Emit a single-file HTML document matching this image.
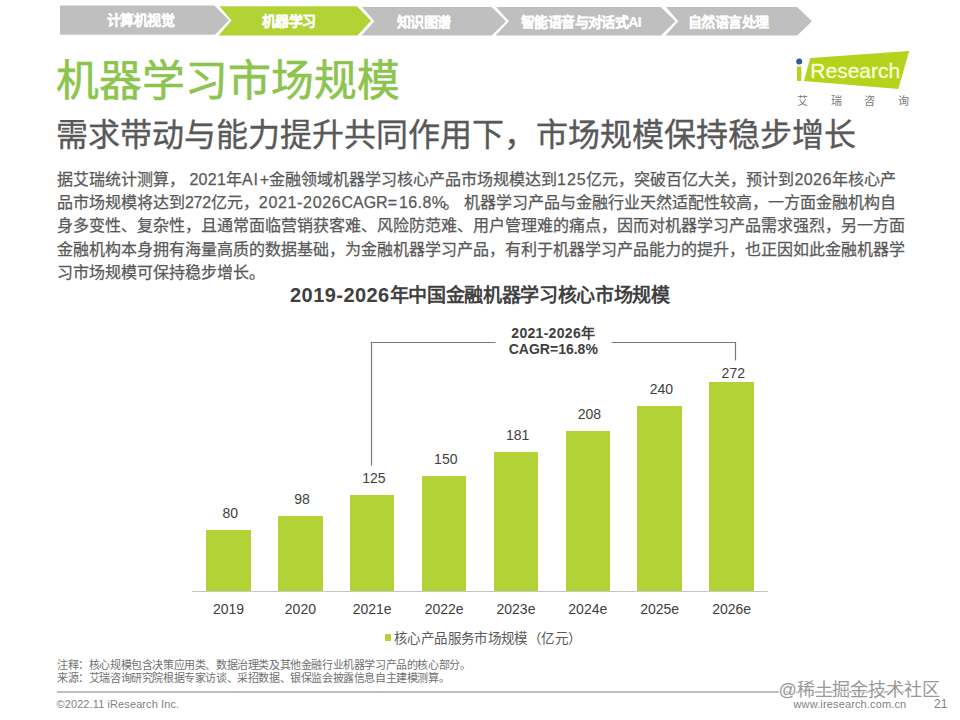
<!DOCTYPE html>
<html lang="zh-CN"><head><meta charset="utf-8">
<style>
html,body{margin:0;padding:0;background:#fff;}
body{width:960px;height:720px;position:relative;overflow:hidden;font-family:"Liberation Sans",sans-serif;}
.a{position:absolute;white-space:nowrap;line-height:1;}
.tab{color:#fff;font-weight:700;font-size:14px;letter-spacing:-0.6px;-webkit-text-stroke:0.2px #fff}
.body{color:#595959;font-size:16px;-webkit-text-stroke:0.25px #595959;}
.lbl{color:#404040;font-size:14px;}
.bar{position:absolute;background:#b2d235;width:44.6px;}
</style></head><body>
<svg class="a" style="left:0;top:0" width="960" height="40">
<polygon fill="#bfbfbf" points="60,5.5 214.3,5.5 229,20.2 215,34.8 60,34.8"/>
<polygon fill="#b2d235" points="219.5,6.2 357,6.2 371,20.8 357.5,35.5 218.5,35.5 231.5,20.6"/>
<polygon fill="#bfbfbf" points="362,6.9 491.7,6.9 506,21.2 491.7,35.5 361.5,35.5 374.4,21.2"/>
<polygon fill="#bfbfbf" points="496.1,6.9 660.8,6.9 675.5,21.3 660.8,35.5 495.6,35.5 508.9,21.3"/>
<polygon fill="#bfbfbf" points="666,6.9 797.2,6.9 812,21.3 797.2,35.5 665.5,35.5 678.3,21.3"/>
</svg>
<div class="a tab" style="left:107px;top:13px">计算机视觉</div>
<div class="a tab" style="left:262px;top:13.5px">机器学习</div>
<div class="a tab" style="left:397px;top:15px">知识图谱</div>
<div class="a tab" style="left:521px;top:15px">智能语音与对话式AI</div>
<div class="a tab" style="left:688px;top:14.5px">自然语言处理</div>

<div class="a" style="left:55.5px;top:60px;font-size:42.8px;font-weight:500;-webkit-text-stroke:0.6px #8cc44e;color:#8cc44e">机器学习市场规模</div>
<div class="a" style="left:56px;top:118.7px;font-size:32px;font-weight:500;-webkit-text-stroke:0.35px #595959;color:#595959">需求带动与能力提升共同作用下，市场规模保持稳步增长</div>

<!-- logo -->
<svg class="a" style="left:790px;top:45px" width="130" height="65">
<polygon fill="#b3d31c" points="20.2,12.9 119.2,6.1 108.3,44 14,36"/>
<rect x="7" y="21.5" width="4.3" height="14.5" fill="#b3d31c"/>
<circle cx="9.2" cy="16.4" r="3" fill="#2f5b9a"/>
<text x="20.3" y="33.2" font-family="Liberation Sans" font-size="21" fill="#fafcd8" stroke="#fafcd8" stroke-width="0.3">Research</text>
</svg>
<div class="a" style="left:797px;top:95.5px;font-size:11px;color:#7a7a7a;letter-spacing:22.6px">艾瑞咨询</div>

<div class="a body" style="left:57px;top:172.2px">据艾瑞统计测算， <span style="letter-spacing:0.25px">2021</span>年<span style="letter-spacing:0.7px">AI</span><span style="margin-left:1.2px">+</span>金融领域机器学习核心产品市场规模达到<span style="letter-spacing:0.87px">125</span>亿元，突破百亿大关，预计到<span style="letter-spacing:0.45px">2026</span>年核心产</div>
<div class="a body" style="left:57px;top:195.3px">品市场规模将达到<span style="letter-spacing:-0.3px">272</span>亿元，<span style="letter-spacing:0.68px">2021-2026</span>CAGR<span style="margin-right:2px">=</span><span style="letter-spacing:0.4px">16.8%</span><span style="margin-left:-3.1px;margin-right:0.6px">。</span> 机器学习产品与金融行业天然适配性较高，一方面金融机构自</div>
<div class="a body" style="left:57px;top:218.4px">身多变性、复杂性，且通常面临营销获客难、风险防范难、用户管理难的痛点，因而对机器学习产品需求强烈，另一方面</div>
<div class="a body" style="left:57px;top:241.5px">金融机构本身拥有海量高质的数据基础，为金融机器学习产品，有利于机器学习产品能力的提升，也正因如此金融机器学</div>
<div class="a body" style="left:57px;top:264.6px">习市场规模可保持稳步增长。</div>

<div class="a" style="left:290px;top:285px;font-size:19px;letter-spacing:-0.34px;font-weight:bold;color:#404040"><span style="font-size:20px;letter-spacing:0.45px">2019-2026</span>年中国金融机器学习核心市场规模</div>

<!-- CAGR bracket -->
<svg class="a" style="left:0;top:0" width="960" height="720">
<path d="M371.5,465.5 V342.5 H495.5 M611.5,342.5 H735.5 V360.5" fill="none" stroke="#7a7a7a" stroke-width="1.2"/>
</svg>
<div class="a" style="left:501.3px;top:324.6px;width:104px;text-align:center;font-size:14px;font-weight:bold;color:#404040;line-height:16.8px"><span style="letter-spacing:0.3px">2021-2026年</span><br><span style="letter-spacing:0px">CAGR=16.8%</span></div>

<!-- bars -->
<div class="bar" style="left:206.2px;top:529.7px;height:61.6px"></div>
<div class="bar" style="left:278.1px;top:515.8px;height:75.5px"></div>
<div class="bar" style="left:349.9px;top:495.0px;height:96.3px"></div>
<div class="bar" style="left:421.8px;top:475.7px;height:115.6px"></div>
<div class="bar" style="left:493.7px;top:451.8px;height:139.5px"></div>
<div class="bar" style="left:565.5px;top:431.0px;height:160.3px"></div>
<div class="bar" style="left:637.4px;top:406.4px;height:184.9px"></div>
<div class="bar" style="left:709.3px;top:381.7px;height:209.6px"></div>
<div class="a lbl" style="left:207.9px;width:44.6px;text-align:center;top:505.6px">80</div>
<div class="a lbl" style="left:279.8px;width:44.6px;text-align:center;top:491.7px">98</div>
<div class="a lbl" style="left:351.6px;width:44.6px;text-align:center;top:470.9px">125</div>
<div class="a lbl" style="left:423.5px;width:44.6px;text-align:center;top:451.6px">150</div>
<div class="a lbl" style="left:495.4px;width:44.6px;text-align:center;top:427.7px">181</div>
<div class="a lbl" style="left:567.2px;width:44.6px;text-align:center;top:406.9px">208</div>
<div class="a lbl" style="left:639.1px;width:44.6px;text-align:center;top:382.3px">240</div>
<div class="a lbl" style="left:711.0px;width:44.6px;text-align:center;top:366.4px">272</div>
<div class="a lbl" style="left:196.2px;width:64.6px;text-align:center;top:602px">2019</div>
<div class="a lbl" style="left:268.1px;width:64.6px;text-align:center;top:602px">2020</div>
<div class="a lbl" style="left:339.9px;width:64.6px;text-align:center;top:602px">2021e</div>
<div class="a lbl" style="left:411.8px;width:64.6px;text-align:center;top:602px">2022e</div>
<div class="a lbl" style="left:483.7px;width:64.6px;text-align:center;top:602px">2023e</div>
<div class="a lbl" style="left:555.5px;width:64.6px;text-align:center;top:602px">2024e</div>
<div class="a lbl" style="left:627.4px;width:64.6px;text-align:center;top:602px">2025e</div>
<div class="a lbl" style="left:699.3px;width:64.6px;text-align:center;top:602px">2026e</div>

<div class="a" style="left:192px;top:591px;width:576px;height:1px;background:rgba(0,0,0,0.22)"></div>
<div class="a" style="left:385px;top:634.3px;width:6.3px;height:6.3px;background:#b2d235"></div>
<div class="a" style="left:394px;top:632px;font-size:13.5px;letter-spacing:0.38px;color:#595959">核心产品服务市场规模（亿元）</div>

<div class="a" style="left:57px;top:660px;font-size:11px;letter-spacing:-0.4px;color:#707070">注释：核心规模包含决策应用类、数据治理类及其他金融行业机器学习产品的核心部分。</div>
<div class="a" style="left:57px;top:673px;font-size:11px;letter-spacing:-0.4px;color:#707070">来源：艾瑞咨询研究院根据专家访谈、采招数据、银保监会披露信息自主建模测算。</div>

<div class="a" style="left:56.5px;top:691px;width:847px;height:2px;background:#bfbfbf"></div>
<div class="a" style="left:56.5px;top:699px;font-size:11px;letter-spacing:0.1px;color:#7f7f7f">©2022.11 iResearch Inc.</div>
<div class="a" style="left:793.5px;top:699px;font-size:11px;letter-spacing:0.14px;color:#7f7f7f">www.iresearch.com.cn</div>
<div class="a" style="left:934px;top:698px;font-size:12px;color:#7f7f7f">21</div>

<div class="a" style="left:778.5px;top:681px;font-size:18px;letter-spacing:-0.1px;color:#999;text-shadow:1px 0 0 #fff,-1px 0 0 #fff,0 1px 0 #fff,0 -1px 0 #fff">@稀土掘金技术社区</div>
</body></html>
